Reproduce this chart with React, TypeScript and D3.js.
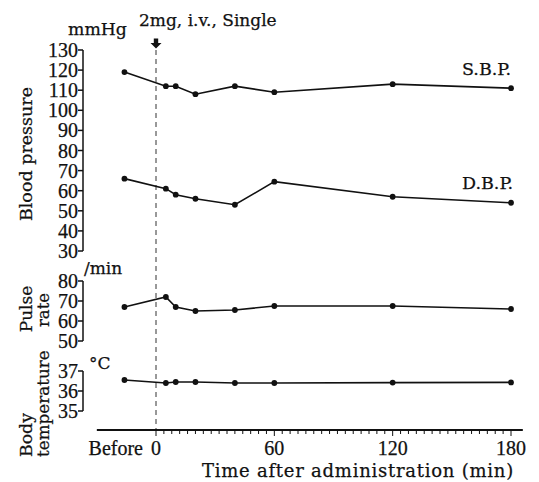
import React from "react";
import { scaleLinear, line, range } from "d3";

// time points (min); the first one is the "Before" reading
const timePoints = [-16, 5, 10, 20, 40, 60, 120, 180];
const sbp = [119, 112, 112, 108, 112, 109, 113, 111];
const dbp = [66, 61, 58, 56, 53, 64.5, 57, 54];
const pulse = [67, 72, 67, 65, 65.5, 67.5, 67.5, 66];
const temperature = [36.55, 36.4, 36.45, 36.45, 36.4, 36.4, 36.42, 36.43];

const bpTicks = [30, 40, 50, 60, 70, 80, 90, 100, 110, 120, 130];
const pulseTicks = [50, 60, 70, 80];
const tempTicks = [35, 36, 37];
const xMajorTicks = [0, 60, 120, 180];

const W = 539;
const H = 482;
const serif = "'DejaVu Serif', serif";
const digits = "'Liberation Serif', serif";
const ink = "#111";

const x = scaleLinear().domain([0, 180]).range([156, 511]);
const yBP = scaleLinear().domain([30, 130]).range([251, 50]);
const yPulse = scaleLinear().domain([50, 80]).range([341, 281]);
const yTemp = scaleLinear().domain([35, 37]).range([411, 371]);
const axisX = 83;
const baseY = 430;

// slight outline so the type has the weight of the printed original
const textStyle = { stroke: ink, strokeWidth: 0.25 };

function Series({ values, y }: { values: number[]; y: any }) {
  const gen = line<number>()
    .x((_, i) => x(timePoints[i]))
    .y((d) => y(d));
  return (
    <g>
      <path d={gen(values) || ""} fill="none" stroke={ink} strokeWidth={1.6} />
      {values.map((v, i) => (
        <circle key={i} cx={x(timePoints[i])} cy={y(v)} r={2.9} fill={ink} />
      ))}
    </g>
  );
}

function YAxis({ ticks, y }: { ticks: number[]; y: any }) {
  const lo = y(ticks[0]);
  const hi = y(ticks[ticks.length - 1]);
  return (
    <g>
      <line x1={axisX} x2={axisX} y1={hi} y2={lo} stroke={ink} strokeWidth={1.5} />
      {ticks.map((t) => (
        <g key={t}>
          <line x1={axisX - 5} x2={axisX} y1={y(t)} y2={y(t)} stroke={ink} strokeWidth={1.5} />
          <text
            x={axisX - 5}
            y={y(t)}
            dy="0.35em"
            textAnchor="end"
            fontFamily={digits}
            fontSize={20}
            fill={ink}
            style={textStyle}
          >
            {t}
          </text>
        </g>
      ))}
    </g>
  );
}

export default function App() {
  const minorTicks = range(0, 181, 4);
  const x0 = x(0);
  return (
    <svg
      width={W}
      height={H}
      style={{ position: "absolute", left: 0, top: 0, background: "#fff" }}
    >
      {/* dosing annotation */}
      <text x={139} y={26} fontFamily={serif} fontSize={17} fill={ink} style={textStyle}>
        2mg, i.v., Single
      </text>
      <path
        d={`M${x0 - 2.2},38.5 h4.4 v4.5 h3.3 l-5.5,5.5 l-5.5,-5.5 h3.3 z`}
        fill={ink}
      />
      <line
        x1={x0}
        x2={x0}
        y1={50}
        y2={baseY}
        stroke="#333"
        strokeWidth={1}
        strokeDasharray="5,4"
      />

      {/* blood pressure */}
      <text x={68} y={35} fontFamily={serif} fontSize={17.3} fill={ink} style={textStyle}>
        mmHg
      </text>
      <YAxis ticks={bpTicks} y={yBP} />
      <text
        transform="translate(32,154) rotate(-90)"
        textAnchor="middle"
        fontFamily={serif}
        fontSize={17.5}
        fill={ink}
        style={textStyle}
      >
        Blood pressure
      </text>
      <Series values={sbp} y={yBP} />
      <Series values={dbp} y={yBP} />
      <text x={462} y={75} fontFamily={serif} fontSize={17.5} fill={ink} style={textStyle}>
        S.B.P.
      </text>
      <text x={462} y={189} fontFamily={serif} fontSize={17.5} fill={ink} style={textStyle}>
        D.B.P.
      </text>

      {/* pulse rate */}
      <text x={84} y={274} fontFamily={serif} fontSize={17} fill={ink} style={textStyle}>
        /min
      </text>
      <YAxis ticks={pulseTicks} y={yPulse} />
      <text
        transform="translate(32,309) rotate(-90)"
        textAnchor="middle"
        fontFamily={serif}
        fontSize={17}
        fill={ink}
        style={textStyle}
      >
        Pulse
      </text>
      <text
        transform="translate(49,310) rotate(-90)"
        textAnchor="middle"
        fontFamily={serif}
        fontSize={16.5}
        fill={ink}
        style={textStyle}
      >
        rate
      </text>
      <Series values={pulse} y={yPulse} />

      {/* body temperature */}
      <text x={89} y={369} fontFamily={serif} fontSize={17} fill={ink} style={textStyle}>
        °C
      </text>
      <YAxis ticks={tempTicks} y={yTemp} />
      <text
        transform="translate(32,457) rotate(-90)"
        fontFamily={serif}
        fontSize={17.3}
        fill={ink}
        style={textStyle}
      >
        Body
      </text>
      <text
        transform="translate(49,457) rotate(-90)"
        fontFamily={serif}
        fontSize={16.8}
        fill={ink}
        style={textStyle}
      >
        temperature
      </text>
      <Series values={temperature} y={yTemp} />

      {/* time axis */}
      <line x1={x(-30)} x2={x(186)} y1={baseY} y2={baseY} stroke={ink} strokeWidth={1.8} />
      {minorTicks.map((t) => (
        <line
          key={t}
          x1={x(t)}
          x2={x(t)}
          y1={baseY}
          y2={baseY + (t % 60 === 0 ? 6 : 4)}
          stroke={ink}
          strokeWidth={1}
        />
      ))}
      {xMajorTicks.map((t) => (
        <text
          key={t}
          x={x(t)}
          y={455}
          textAnchor="middle"
          fontFamily={digits}
          fontSize={20}
          fill={ink}
          style={textStyle}
        >
          {t}
        </text>
      ))}
      <text
        x={143}
        y={455}
        textAnchor="end"
        fontFamily={digits}
        fontSize={20}
        fill={ink}
        style={textStyle}
      >
        Before
      </text>
      <text
        x={202}
        y={477}
        fontFamily={serif}
        fontSize={18}
        letterSpacing={0.75}
        fill={ink}
        style={textStyle}
      >
        Time after administration (min)
      </text>
    </svg>
  );
}
